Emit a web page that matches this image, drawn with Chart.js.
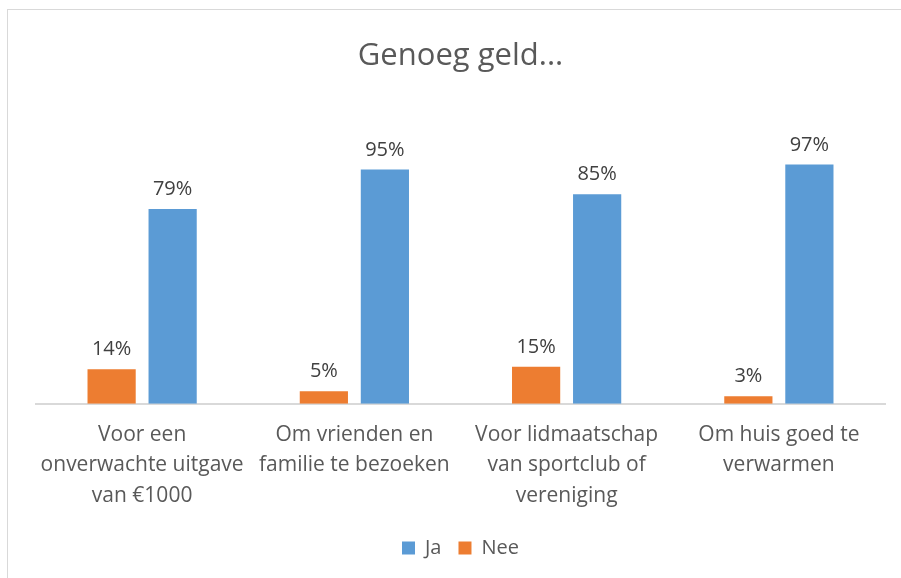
<!DOCTYPE html>
<html>
<head>
<meta charset="utf-8">
<script src="https://cdn.jsdelivr.net/npm/chart.js@4"></script>
<style>
  html, body { margin: 0; padding: 0; background: #fff; overflow: hidden; }
  #frame { position: absolute; left: 7px; top: 9px; width: 1000px; height: 700px;
           border-left: 1px solid #d9d9d9; border-top: 1px solid #d9d9d9; }
  #wrap { position: absolute; left: 0; top: 0; width: 901px; height: 578px; }
</style>
</head>
<body>
<div id="frame"></div>
<div id="wrap"><canvas id="barChart"></canvas></div>
<script>
var categories = [
    ['Voor een', 'onverwachte uitgave', 'van €1000'],
    ['Om vrienden en', 'familie te bezoeken'],
    ['Voor lidmaatschap', 'van sportclub of', 'vereniging'],
    ['Om huis goed te', 'verwarmen']
];
var jaValues = [79, 95, 85, 97];
var neeValues = [14, 5, 15, 3];

var fontFam = "'Open Sans', sans-serif";
var textColor = '#595959';

// draws the percentage above each bar
var valueLabels = {
    id: 'valueLabels',
    afterDatasetsDraw: function (chart) {
        var ctx = chart.ctx;
        ctx.save();
        ctx.font = '20px ' + fontFam;
        ctx.fillStyle = '#404040';
        ctx.textAlign = 'center';
        ctx.textBaseline = 'alphabetic';
        chart.data.datasets.forEach(function (ds, i) {
            chart.getDatasetMeta(i).data.forEach(function (bar, j) {
                ctx.fillText(ds.data[j] + '%', bar.x, bar.y - 14);
            });
        });
        ctx.restore();
    }
};

var ctx = document.getElementById('barChart').getContext('2d');
var myChart = new Chart(ctx, {
    type: 'bar',
    data: {
        labels: categories,
        datasets: [{
            label: 'Nee',
            data: neeValues,
            backgroundColor: '#ED7D31',
            categoryPercentage: 0.575,
            barPercentage: 0.79
        }, {
            label: 'Ja',
            data: jaValues,
            backgroundColor: '#5B9BD5',
            categoryPercentage: 0.575,
            barPercentage: 0.79
        }]
    },
    options: {
        responsive: true,
        maintainAspectRatio: false,
        animation: false,
        layout: { padding: { top: 38, left: 36, right: 16, bottom: 10 } },
        plugins: {
            title: {
                display: true,
                text: 'Genoeg geld...',
                color: textColor,
                font: { family: fontFam, size: 31, weight: 'normal' },
                padding: { top: 0, bottom: 82 }
            },
            legend: {
                position: 'bottom',
                reverse: true,
                labels: {
                    color: textColor,
                    font: { family: fontFam, size: 20 },
                    boxWidth: 13,
                    boxHeight: 13,
                    padding: 17
                }
            },
            tooltip: { enabled: false }
        },
        scales: {
            x: {
                grid: { display: false, drawTicks: false },
                border: { display: true, color: '#d9d9d9', width: 2 },
                ticks: {
                    color: textColor,
                    font: { family: fontFam, size: 21, lineHeight: 1.45 },
                    padding: 16,
                    maxRotation: 0,
                    autoSkip: false
                },
                afterFit: function (scale) {
                    scale.height -= 6;
                }
            },
            y: {
                display: false,
                min: 0,
                max: 100
            }
        }
    },
    plugins: [valueLabels]
});
</script>
</body>
</html>
